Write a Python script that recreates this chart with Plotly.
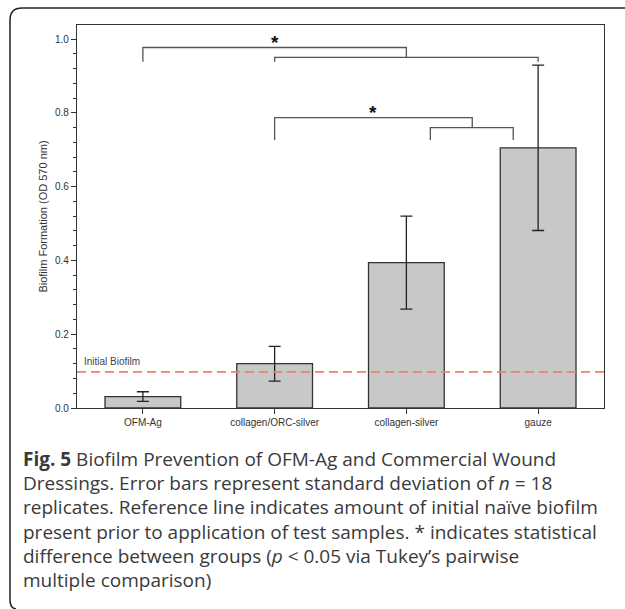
import plotly.graph_objects as go

# ---- data ----
categories = ["OFM-Ag", "collagen/ORC-silver", "collagen-silver", "gauze"]
means = [0.031, 0.120, 0.394, 0.705]
sds = [0.013, 0.047, 0.126, 0.224]
initial_biofilm = 0.098

# significance brackets: x_left, x_right, y_top, left leg bottom, right leg bottom
br_xl = [0.0, 1.0, 1.0, 2.182]
br_xr = [2.0, 3.0, 2.5, 2.811]
br_top = [0.977, 0.950, 0.7867, 0.760]
br_lb = [0.9385, 0.9385, 0.726, 0.726]
br_rb = [0.950, 0.9385, 0.760, 0.726]
star_x = [1.0, 1.75]
star_y = [0.99, 0.80]

caption_lines = [
    "<b>Fig. 5</b> Biofilm Prevention of OFM-Ag and Commercial Wound",
    "Dressings. Error bars represent standard deviation of <i>n</i> = 18",
    "replicates. Reference line indicates amount of initial naïve biofilm",
    "present prior to application of test samples. * indicates statistical",
    "difference between groups (<i>p</i> &lt; 0.05 via Tukey’s pairwise",
    "multiple comparison)",
]

W, H = 625, 609
L, R, T, B = 77, 604, 25, 408


def px(x):
    return (x - L) / (R - L)


def py(y):
    return (B - y) / (B - T)


fig = go.Figure()
fig.add_trace(go.Bar(
    x=list(range(len(categories))), y=means, width=0.575,
    marker=dict(color="#c8c8c8", line=dict(color="#333333", width=1.3)),
    error_y=dict(type="data", array=sds, visible=True, color="#222222", thickness=1.3, width=6),
    showlegend=False, hoverinfo="skip",
))

for xl, xr, yt, lb, rb in zip(br_xl, br_xr, br_top, br_lb, br_rb):
    fig.add_trace(go.Scatter(
        x=[xl, xl, xr, xr], y=[lb, yt, yt, rb], mode="lines",
        line=dict(color="#555555", width=1.3), showlegend=False, hoverinfo="skip",
    ))

for sx, sy in zip(star_x, star_y):
    fig.add_annotation(x=sx, y=sy, text="<b>*</b>", showarrow=False, xanchor="center", yanchor="middle",
                       font=dict(family="Liberation Sans", size=19, color="#111111"))

fig.add_shape(type="line", xref="paper", x0=0, x1=1, yref="y", y0=initial_biofilm, y1=initial_biofilm,
              line=dict(color="#f4805f", width=1.6, dash="9px,5px"))
fig.add_annotation(xref="paper", x=px(82), yref="y", y=initial_biofilm + 0.009, text="Initial Biofilm",
                   showarrow=False, xanchor="left", yanchor="bottom",
                   font=dict(family="Liberation Sans", size=10, color="#444444"))

# outer rounded frame
x0, y0 = px(10), py(8)
frame = (f"M {px(640)},{y0} L {px(22)},{y0} Q {x0},{y0} {x0},{py(20)} "
         f"L {x0},{py(600)} Q {x0},{py(608)} {px(16)},{py(609)}")
fig.add_shape(type="path", xref="paper", yref="paper", path=frame, line=dict(color="#222222", width=1.5))

# caption
cap_y = [459, 483, 507, 532, 556, 580]
for line, yy in zip(caption_lines, cap_y):
    fig.add_annotation(xref="paper", yref="paper", x=px(21), y=py(yy), text=line, showarrow=False,
                       xanchor="left", yanchor="middle",
                       font=dict(family="Open Sans", size=19, color="#3a3a3a"))

fig.update_layout(
    width=W, height=H, margin=dict(l=L, r=W - R, t=T, b=H - B),
    paper_bgcolor="white", plot_bgcolor="white",
    font=dict(family="Liberation Sans", size=10, color="#333333"),
    xaxis=dict(range=[-0.5, 3.5], tickmode="array", tickvals=list(range(len(categories))), ticktext=categories,
               ticks="outside", ticklen=5, tickcolor="#333333", showline=True, linecolor="#333333",
               linewidth=1.3, mirror=True, showgrid=False, zeroline=False,
               tickfont=dict(size=10, color="#333333")),
    yaxis=dict(range=[0, 1.038], tickvals=[0, 0.2, 0.4, 0.6, 0.8, 1.0], tickformat=".1f",
               ticks="outside", ticklen=5, tickcolor="#333333", showline=True, linecolor="#333333",
               linewidth=1.3, mirror=True, showgrid=False, zeroline=False,
               minor=dict(dtick=0.04, ticks="outside", ticklen=3, tickcolor="#333333", showgrid=False),
               title=dict(text="Biofilm Formation (OD 570 nm)", standoff=5, font=dict(size=11, color="#333333")),
               tickfont=dict(size=10, color="#333333")),
)

fig.write_html("out.html")
